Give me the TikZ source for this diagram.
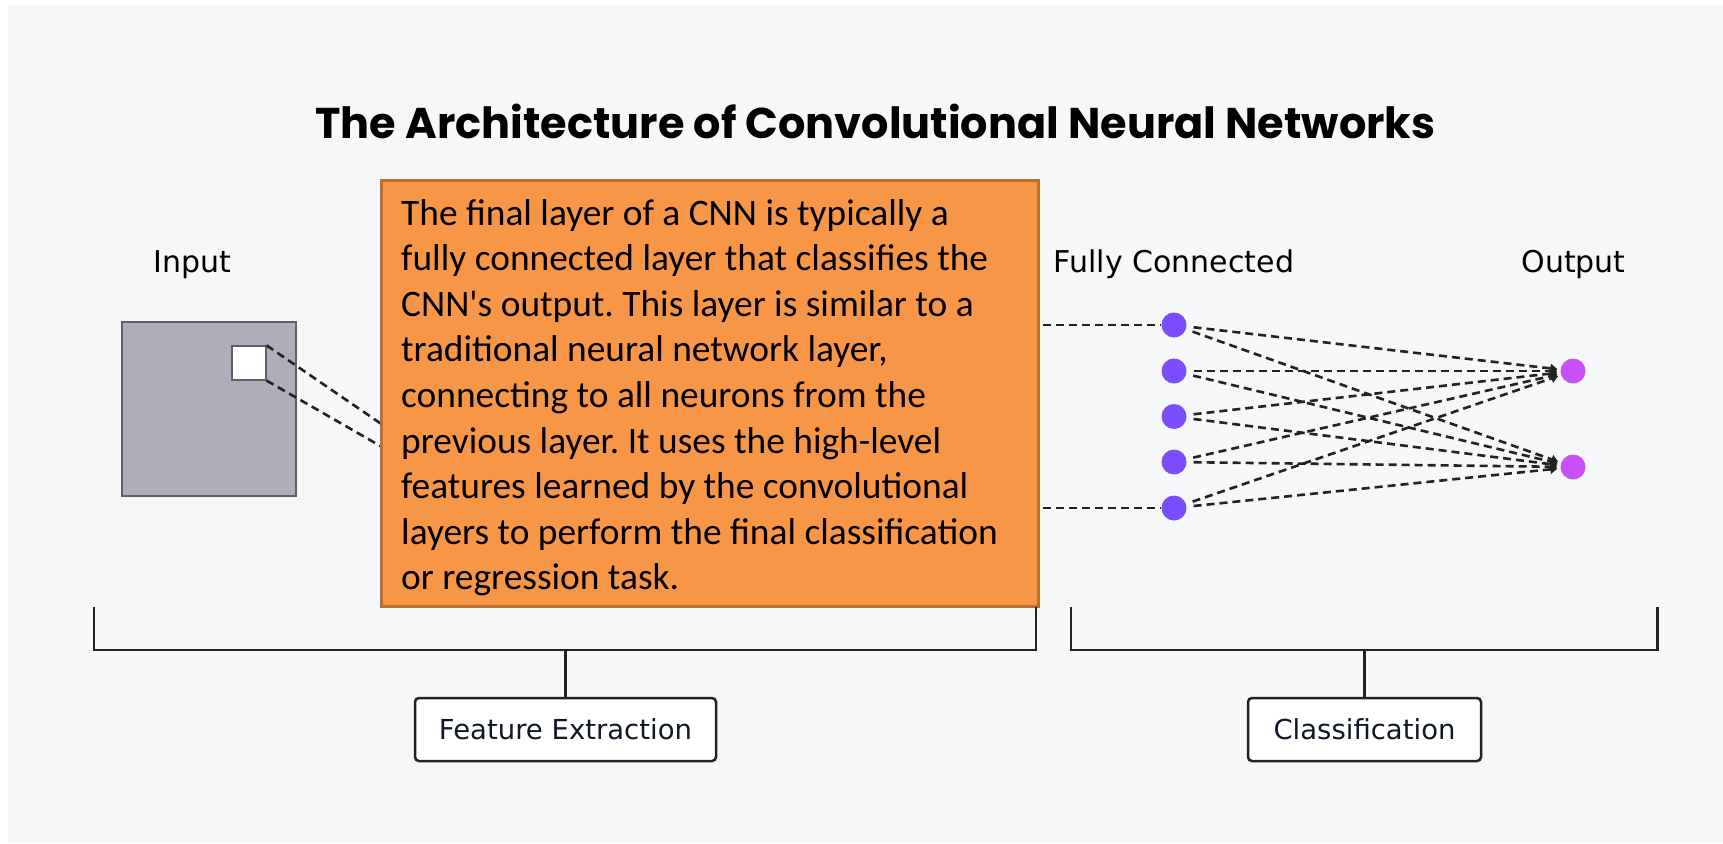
\documentclass[tikz,border=0pt]{standalone}
\usepackage{fontspec}
\usetikzlibrary{arrows.meta}

\newfontfamily\titlefont{Poppins}
\newfontfamily\labfont{DejaVu Sans}
\newfontfamily\bodyfont{Carlito}[Ligatures=TeXOff]

\definecolor{bgc}{HTML}{F6F7F9}
\definecolor{ink}{HTML}{222222}
\definecolor{navy}{HTML}{101828}
\definecolor{notefill}{HTML}{F79646}
\definecolor{noteedge}{HTML}{B8712F}
\definecolor{gridfill}{HTML}{AEAEBA}
\definecolor{gridedge}{HTML}{5E5E66}
\definecolor{fccol}{HTML}{7C4DFF}
\definecolor{outcol}{HTML}{C850F8}

\tikzset{
  lab/.style={font=\labfont\fontsize{30}{36}\selectfont, text=black, inner sep=0pt},
  tagbox/.style={draw=ink, line width=2.5pt, rounded corners=4pt, fill=white,
    font=\labfont\fontsize{27.5}{33}\selectfont, text=navy, inner sep=0pt,
    minimum height=63pt},
  bracket/.style={draw=ink, line width=2.5pt},
  dashlink/.style={draw=ink, line width=2.6pt, dash pattern=on 8pt off 5pt},
  fcnode/.style={circle, fill=fccol, minimum size=25pt, inner sep=0pt},
  outnode/.style={circle, fill=outcol, minimum size=25pt, inner sep=0pt},
  wire/.style={dashlink, shorten <=7pt, shorten >=3pt,
    -{Triangle[length=7pt,width=9pt]}},
}

\begin{document}
\frenchspacing
\begin{tikzpicture}[x=1pt,y=-1pt]
\useasboundingbox (0,0) rectangle (1723,843);
\fill[white] (0,0) rectangle (1723,843);
\fill[bgc] (8,5) rectangle (1723,843);

% title
\node[font=\titlefont\bfseries\fontsize{43}{50}\selectfont, anchor=base, inner sep=0pt]
  (title) at (875.5,138) {The Architecture of Convolutional Neural Networks};

% column labels
\node[lab, anchor=base] (inlab) at (192,272) {Input};
\node[lab, anchor=base] (fclab) at (1174,272) {Fully Connected};
\node[lab, anchor=base] (outlab) at (1573.5,272) {Output};

% input image with its receptive window
\node[draw=gridedge, line width=1.5pt, fill=gridfill, minimum size=174pt, inner sep=0pt]
  (img) at (209,409) {};
\node[draw=gridedge, line width=1.2pt, fill=white, minimum size=34pt, inner sep=0pt]
  (win) at (249,363) {};
\coordinate (mapA) at (450,471);
\coordinate (mapB) at (450,486);
\draw[dashlink] (win.north east) -- (mapA);
\draw[dashlink] (win.south east) -- (mapB);

% fully connected layer and outputs
\foreach \i/\y in {1/325,2/371,3/416.5,4/462,5/508}
  \node[fcnode] (f\i) at (1174,\y) {};
\node[outnode] (o1) at (1573,371) {};
\node[outnode] (o2) at (1573,467) {};

\coordinate (flatA) at (900,325);
\coordinate (flatB) at (900,508);
\draw[dashlink] (flatA) -- (f1.west);
\draw[dashlink] (flatB) -- (f5.west);

\foreach \i in {1,...,5}
  \foreach \o in {1,2}
    \draw[wire] (f\i) -- (o\o);

% explanatory note
\node[draw=noteedge, line width=2.5pt, fill=notefill, anchor=north west,
  minimum width=657pt, minimum height=426pt, inner sep=0pt] (note) at (380,179) {};
\node[anchor=north west, align=left, inner sep=0pt, text=black,
  font=\bodyfont\fontsize{37.4}{45.6}\selectfont\frenchspacing] (notetext) at (401,199)
  {The final layer of a CNN is typically a\\
   fully connected layer that classifies the\\
   CNN's output. This layer is similar to a\\
   traditional neural network layer,\\
   connecting to all neurons from the\\
   previous layer. It uses the high-level\\
   features learned by the convolutional\\
   layers to perform the final classification\\
   or regression task.};

% grouping brackets
\coordinate (bl1) at (94,607);
\coordinate (bl2) at (94,650);
\coordinate (bl3) at (1036,650);
\coordinate (bl4) at (1036,607);
\coordinate (blm) at (565.5,650);
\draw[bracket] (bl1) -- (bl2) -- (bl3) -- (bl4);
\coordinate (br1) at (1071,607);
\coordinate (br2) at (1071,650);
\coordinate (br3) at (1657.5,650);
\coordinate (br4) at (1657.5,607);
\coordinate (brm) at (1364.5,650);
\draw[bracket] (br1) -- (br2) -- (br3) -- (br4);

\node[tagbox, minimum width=301pt] (fe) at (565.5,729.5) {Feature Extraction};
\node[tagbox, minimum width=233pt] (cl) at (1364.5,729.5) {Classification};
\draw[bracket] (blm) -- (fe.north);
\draw[bracket] (brm) -- (cl.north);
\end{tikzpicture}
\end{document}
